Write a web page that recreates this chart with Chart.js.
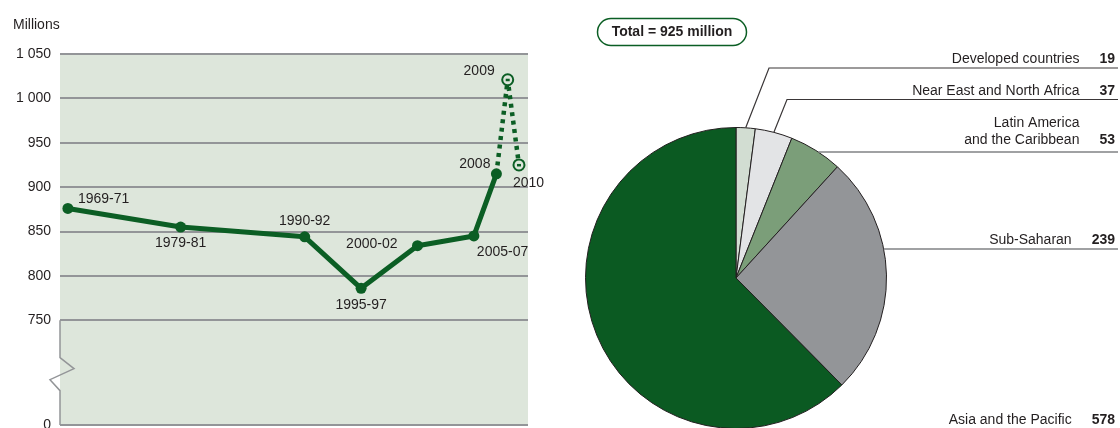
<!DOCTYPE html>
<html>
<head>
<meta charset="utf-8">
<script src="https://cdn.jsdelivr.net/npm/chart.js@4/dist/chart.umd.min.js"></script>
<style>
  html, body { margin: 0; padding: 0; background: #fff; overflow: hidden; width: 1120px; height: 428px; }
  #left { position: absolute; left: 0; top: 0; width: 560px; height: 445px; }
  #right { position: absolute; left: 560px; top: 0; width: 560px; height: 445px; }
</style>
</head>
<body>
<div id="left"><canvas id="trendChart"></canvas></div>
<div id="right"><canvas id="regionChart"></canvas></div>
<script>
/* global Chart */

// Undernourished people in the world, millions
const periods = ['1969-71', '1979-81', '1990-92', '1995-97', '2000-02', '2005-07', '2008'];
const periodYears = [1970, 1980, 1991, 1996, 2001, 2006, 2008];
const hungryMillions = [876, 855, 844, 786, 834, 845, 915];

// FAO estimates (dotted part)
const estimateLabels = ['', '2009', '2010'];
const estimateYears = [2008, 2009, 2010];
const estimateMillions = [915, 1021, 925];

const yTickValues = [750, 800, 850, 900, 950, 1000, 1050];

// Undernourishment in 2010, by region, millions
const regions = ['Developed countries', 'Near East and North Africa', ['Latin America', 'and the Caribbean'], 'Sub-Saharan', 'Asia and the Pacific'];
const regionMillions = [19, 37, 53, 239, 578];
const totalMillions = 925;

const GREEN = '#0b5e24';
const PLOT_BG = '#dde6db';
const GRID = '#939598';
const TEXT = '#231f20';
const FONT = "'Liberation Sans', Arial, sans-serif";

// the axis is broken between 0 and 750: zero sits at this scale value
const Y_FLOOR = 632;

Chart.defaults.font.family = FONT;
Chart.defaults.font.size = 14;
Chart.defaults.color = TEXT;

const trendLabelPlacement = [
  { dx: 10, dy: -9, align: 'left' },
  { dx: 0, dy: 16, align: 'center' },
  { dx: 0, dy: -16, align: 'center' },
  { dx: 0, dy: 17, align: 'center' },
  { dx: -20, dy: -2, align: 'right' },
  { dx: 3, dy: 16, align: 'left' },
  { dx: -6, dy: -10, align: 'right' },
];
const estimateLabelPlacement = [
  null,
  { dx: -13, dy: -9, align: 'right' },
  { dx: -6, dy: 18, align: 'left' },
];

function formatMillions(v) {
  return String(v).replace(/\B(?=(\d{3})+(?!\d))/g, ' ');
}

const plotBackground = {
  id: 'plotBackground',
  beforeDraw(chart) {
    const { ctx, chartArea } = chart;
    ctx.save();
    ctx.fillStyle = PLOT_BG;
    ctx.fillRect(chartArea.left, chartArea.top, chartArea.right - chartArea.left, chartArea.bottom - chartArea.top);
    ctx.fillStyle = TEXT;
    ctx.font = `14px ${FONT}`;
    ctx.textBaseline = 'middle';
    ctx.fillText('Millions', 13, 25);
    ctx.restore();
  },
};

const brokenAxis = {
  id: 'brokenAxis',
  afterDraw(chart) {
    const { ctx, chartArea, scales } = chart;
    const top = scales.y.getPixelForValue(yTickValues[0]);
    const bottom = chartArea.bottom;
    const left = chartArea.left;
    const mid = (top + bottom) / 2;
    ctx.save();
    ctx.strokeStyle = GRID;
    ctx.lineWidth = 1.5;
    ctx.beginPath();
    ctx.moveTo(left, top);
    ctx.lineTo(left, mid - 15);
    ctx.lineTo(left + 14, mid - 4);
    ctx.lineTo(left - 10, mid + 7);
    ctx.lineTo(left, mid + 18);
    ctx.lineTo(left, bottom);
    ctx.stroke();
    ctx.restore();
  },
};

const pointLabels = {
  id: 'pointLabels',
  afterDatasetsDraw(chart) {
    const { ctx } = chart;
    ctx.save();
    ctx.fillStyle = TEXT;
    ctx.font = `14px ${FONT}`;
    ctx.textBaseline = 'middle';
    chart.getDatasetMeta(0).data.forEach((pt, i) => {
      const p = trendLabelPlacement[i];
      ctx.textAlign = p.align;
      ctx.fillText(periods[i], pt.x + p.dx, pt.y + p.dy);
    });
    chart.getDatasetMeta(1).data.forEach((pt, i) => {
      const p = estimateLabelPlacement[i];
      if (!p) return;
      ctx.textAlign = p.align;
      ctx.fillText(estimateLabels[i], pt.x + p.dx, pt.y + p.dy);
      ctx.fillStyle = GREEN;
      ctx.fillRect(pt.x - 2, pt.y - 1, 4, 2.5);
      ctx.fillStyle = TEXT;
    });
    ctx.restore();
  },
};

function trendChart() {
  const config = {
    type: 'line',
    data: {
      datasets: [
        {
          data: periodYears.map((x, i) => ({ x, y: hungryMillions[i] })),
          borderColor: GREEN,
          backgroundColor: GREEN,
          borderWidth: 5,
          borderJoinStyle: 'round',
          pointRadius: 5.5,
          pointHoverRadius: 5.5,
          pointBorderWidth: 0,
          order: 1,
          clip: false,
        },
        {
          data: estimateYears.map((x, i) => ({ x, y: estimateMillions[i] })),
          borderColor: GREEN,
          borderWidth: 4.5,
          borderDash: [4, 4.5],
          borderCapStyle: 'butt',
          borderJoinStyle: 'bevel',
          pointRadius: [0, 5.5, 5.5],
          pointHoverRadius: [0, 5.5, 5.5],
          pointBackgroundColor: PLOT_BG,
          pointBorderColor: GREEN,
          pointBorderWidth: 2,
          order: 2,
          clip: false,
        },
      ],
    },
    options: {
      responsive: true,
      maintainAspectRatio: false,
      animation: false,
      events: [],
      layout: { padding: { top: 54, right: 32, bottom: 20, left: 0 } },
      plugins: { legend: { display: false }, tooltip: { enabled: false } },
      scales: {
        x: { type: 'linear', min: 1969.3, max: 2010.8, display: false },
        y: {
          min: Y_FLOOR,
          max: 1050,
          afterFit: (scale) => { scale.width = 60; },
          afterBuildTicks: (scale) => {
            scale.ticks = [Y_FLOOR, ...yTickValues].map((value) => ({ value }));
          },
          ticks: {
            padding: 9,
            color: TEXT,
            font: { size: 14 },
            callback: (v) => (v === Y_FLOOR ? '0' : formatMillions(v)),
          },
          grid: { color: GRID, lineWidth: 2, drawTicks: false },
          border: { display: false },
        },
      },
    },
    plugins: [plotBackground, brokenAxis, pointLabels],
  };
  return new Chart(document.getElementById('trendChart'), config);
}

// leader line rows for the pie callouts (canvas y), elbow x for slanted lines
const calloutRows = [
  { lineY: 68, elbowX: 209, textY: [59] },
  { lineY: 99.5, elbowX: 227, textY: [91] },
  { lineY: 152, elbowX: null, textY: [123, 140] },
  { lineY: 249, elbowX: null, textY: [240] },
  { lineY: null, elbowX: null, textY: [420] },
];

const regionCallouts = {
  id: 'regionCallouts',
  afterDraw(chart) {
    const { ctx } = chart;
    const lineEnd = chart.width - 2;
    const valueRight = chart.width - 5;
    ctx.save();

    // total badge
    ctx.strokeStyle = GREEN;
    ctx.lineWidth = 1.5;
    ctx.beginPath();
    ctx.roundRect(37.5, 18.5, 149, 27, 13.5);
    ctx.stroke();
    ctx.fillStyle = TEXT;
    ctx.font = `bold 14px ${FONT}`;
    ctx.textAlign = 'center';
    ctx.textBaseline = 'middle';
    ctx.fillText(`Total = ${totalMillions} million`, 112, 32);

    const meta = chart.getDatasetMeta(0);
    meta.data.forEach((arc, i) => {
      const row = calloutRows[i];
      const { x, y, startAngle, endAngle, outerRadius } = arc.getProps(['x', 'y', 'startAngle', 'endAngle', 'outerRadius'], true);
      if (row.lineY !== null) {
        ctx.beginPath();
        if (row.elbowX !== null) {
          const mid = (startAngle + endAngle) / 2;
          ctx.strokeStyle = '#3a3637';
          ctx.lineWidth = 1.2;
          ctx.moveTo(x + Math.cos(mid) * outerRadius, y + Math.sin(mid) * outerRadius);
          ctx.lineTo(row.elbowX, row.lineY);
        } else {
          const dy = row.lineY - y;
          ctx.strokeStyle = '#808285';
          ctx.lineWidth = 1.6;
          ctx.moveTo(x + Math.sqrt(Math.max(outerRadius * outerRadius - dy * dy, 0)), row.lineY);
        }
        ctx.lineTo(lineEnd, row.lineY);
        ctx.stroke();
      }

      const value = String(regionMillions[i]);
      ctx.font = `bold 14px ${FONT}`;
      ctx.textAlign = 'right';
      ctx.fillStyle = TEXT;
      const lastY = row.textY[row.textY.length - 1];
      ctx.fillText(value, valueRight, lastY);
      const labelRight = valueRight - ctx.measureText(value).width - 20;
      ctx.font = `14px ${FONT}`;
      const lines = Array.isArray(regions[i]) ? regions[i] : [regions[i]];
      lines.forEach((line, k) => ctx.fillText(line, labelRight, row.textY[k]));
    });
    ctx.restore();
  },
};

function regionChart() {
  const config = {
    type: 'pie',
    data: {
      labels: regions.map((r) => (Array.isArray(r) ? r.join(' ') : r)),
      datasets: [{
        data: regionMillions,
        backgroundColor: ['#d2ddd2', '#e3e4e6', '#7b9e79', '#939598', '#0b5a22'],
        borderColor: '#231f20',
        borderWidth: 1,
      }],
    },
    options: {
      responsive: true,
      maintainAspectRatio: false,
      animation: false,
      events: [],
      layout: { padding: { top: 127, right: 233, bottom: 16, left: 25 } },
      plugins: { legend: { display: false }, tooltip: { enabled: false } },
    },
    plugins: [regionCallouts],
  };
  return new Chart(document.getElementById('regionChart'), config);
}

trendChart();
regionChart();
</script>
</body>
</html>
